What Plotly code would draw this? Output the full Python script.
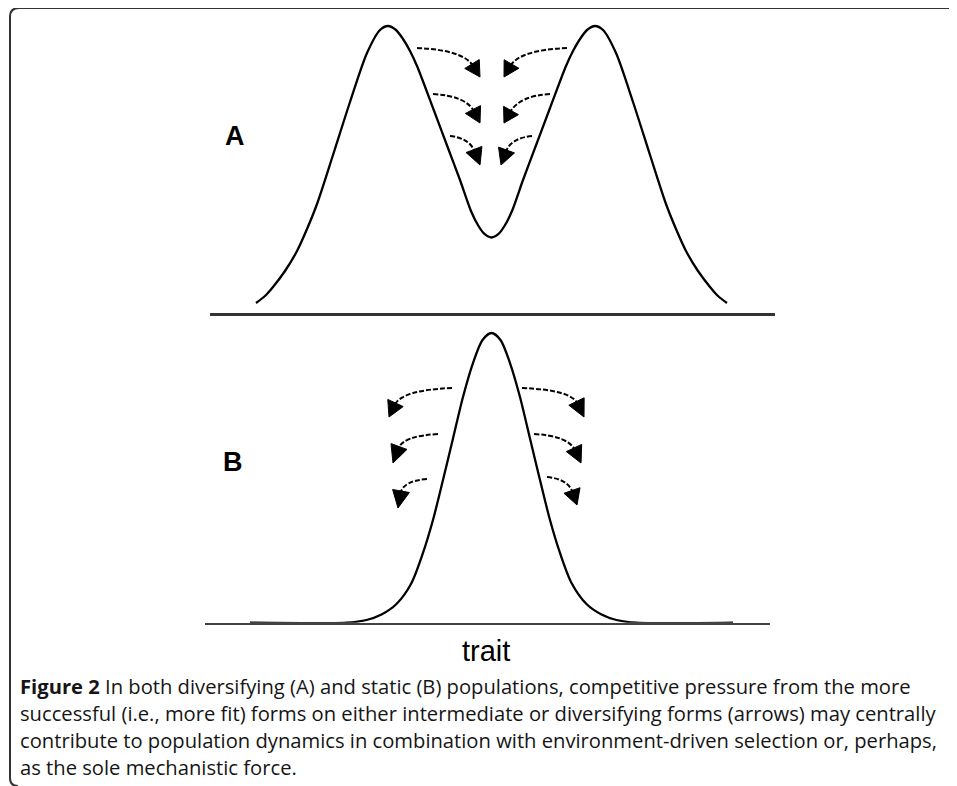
import plotly.graph_objects as go
import math

# page body adds an 8px margin; the figure is sized/offset to compensate
OFF = 8
W, H = 957 - OFF, 786 - OFF

# ---------------- data ----------------
# Panel A: diversifying population (bimodal), trait 0-100, density 0-100
trait_a = [8.14, 9.73, 11.15, 13.27, 15.40, 17.17, 18.94, 21.77, 24.78, 27.79, 30.09,
           31.50, 32.92, 34.16, 35.40, 36.64, 39.47, 42.12, 44.25, 46.19, 47.52, 48.58,
           49.82, 51.06, 52.12, 53.45, 55.40, 57.52, 60.18, 63.01, 64.25, 65.49, 66.73,
           68.14, 69.56, 71.86, 74.87, 77.88, 80.71, 82.48, 84.25, 86.37, 88.50, 89.91,
           91.50]
density_a = [3.48, 5.92, 9.06, 14.63, 21.60, 29.27, 37.98, 55.05, 73.52, 90.59, 98.61,
             100.0, 98.61, 95.47, 91.29, 86.06, 71.43, 57.49, 46.34, 35.54, 30.31, 27.53,
             26.31, 27.53, 30.31, 35.54, 46.34, 57.49, 71.43, 86.06, 91.29, 95.47, 98.61,
             100.0, 98.61, 90.59, 73.52, 55.05, 37.98, 29.27, 21.60, 14.63, 9.06, 5.92,
             3.48]

# Panel B: static population (single peak)
trait_b = [7.96, 25.04, 28.58, 31.24, 33.89, 36.55, 38.58, 40.35, 42.12, 43.89, 45.66,
           47.43, 49.12, 50.71, 52.30, 53.98, 55.75, 57.52, 59.29, 61.06, 62.83, 64.87,
           67.52, 70.18, 72.83, 76.37, 93.45]
density_b = [0, 0, 0.93, 2.83, 6.45, 13.71, 24.06, 35.45, 49.26, 63.58, 77.91,
             89.64, 97.58, 100.0, 97.58, 89.64, 77.91, 63.58, 49.26, 35.45, 24.06, 13.71,
             6.45, 2.83, 0.93, 0, 0]

panel_labels = ["A", "B"]
axis_title = "trait"
caption_lines = [
    "<b>Figure 2</b> In both diversifying (A) and static (B) populations, competitive pressure from the more",
    "successful (i.e., more fit) forms on either intermediate or diversifying forms (arrows) may centrally",
    "contribute to population dynamics in combination with environment-driven selection or, perhaps,",
    "as the sole mechanistic force.",
]

# ---------------- layout geometry (window pixels) ----------------
def px(x):
    return (x - OFF) / W


def py(y):
    return 1 - (y - OFF) / H


A_X = (210, 775)
A_BASE, A_SCALE = 313, 2.87
B_X = (205, 770)
B_BASE, B_SCALE = 622.7, 2.897
YMAX = 105

# arrows: start, control, base of head, tip (window pixels)
arrows = [
    ((417, 48), (463, 50), (472, 64), (480, 77)),
    ((433, 94), (466, 96), (473, 109.5), (480, 123)),
    ((450, 136), (469, 138), (474, 149.5), (480, 165)),
    ((567, 48), (520, 50), (511.5, 64), (504, 77)),
    ((550, 94), (519, 96), (511, 110.5), (504, 123)),
    ((532, 136), (511, 138), (506.5, 150), (501, 165)),
    ((452, 388), (402, 390), (395.5, 403), (389, 417)),
    ((438, 434), (403, 436), (399, 446.5), (393, 463)),
    ((427, 479), (403, 481), (401, 491), (398, 508)),
    ((522, 388), (571, 390), (576.5, 401.5), (584, 417)),
    ((534, 434), (568, 436), (574, 448), (581, 463)),
    ((547, 477), (568, 479), (572, 490.5), (577, 505)),
]

fig = go.Figure()
fig.add_trace(go.Scatter(x=trait_a, y=density_a, mode="lines",
                         line=dict(color="black", width=2.3, shape="spline", smoothing=0.8),
                         xaxis="x", yaxis="y", hoverinfo="skip", showlegend=False))
fig.add_trace(go.Scatter(x=trait_b, y=density_b, mode="lines",
                         line=dict(color="black", width=2.3, shape="spline", smoothing=0.8),
                         xaxis="x2", yaxis="y2", hoverinfo="skip", showlegend=False))

shapes = []
for S, C, B, T in arrows:
    dx, dy = T[0] - B[0], T[1] - B[1]
    L = math.hypot(dx, dy)
    ux, uy = dx / L, dy / L
    hw = 8.5
    v1 = (B[0] - uy * hw, B[1] + ux * hw)
    v2 = (B[0] + uy * hw, B[1] - ux * hw)
    end = (B[0] + ux * 2, B[1] + uy * 2)
    shapes.append(dict(
        type="path", xref="paper", yref="paper",
        path=f"M {px(S[0])},{py(S[1])} Q {px(C[0])},{py(C[1])} {px(end[0])},{py(end[1])}",
        line=dict(color="black", width=2, dash="5px,2px")))
    shapes.append(dict(
        type="path", xref="paper", yref="paper",
        path=(f"M {px(v1[0])},{py(v1[1])} L {px(T[0])},{py(T[1])} "
              f"L {px(v2[0])},{py(v2[1])} Z"),
        fillcolor="black", line=dict(color="black", width=1)))

# rounded frame
shapes.append(dict(
    type="path", xref="paper", yref="paper",
    path=(f"M {px(10)},{py(778)} L {px(10)},{py(17)} Q {px(10)},{py(8)} {px(19)},{py(8)} "
          f"L {px(965)},{py(8)}"),
    line=dict(color="#333333", width=2)))
shapes.append(dict(
    type="path", xref="paper", yref="paper",
    path=f"M {px(10)},{py(778)} Q {px(10)},{py(786)} {px(18)},{py(786)}",
    line=dict(color="#333333", width=2)))

annotations = []
label_pos = [(235, 136), (233, 462)]
for lab, (lx, ly) in zip(panel_labels, label_pos):
    annotations.append(dict(x=px(lx), y=py(ly), xref="paper", yref="paper", text=lab,
                            showarrow=False, xanchor="center", yanchor="middle",
                            font=dict(family="Liberation Sans, Arial, sans-serif",
                                      size=27, color="black", weight="bold")))
annotations.append(dict(x=px(486), y=py(651), xref="paper", yref="paper", text=axis_title,
                        showarrow=False, xanchor="center", yanchor="middle",
                        font=dict(family="Liberation Sans, Arial, sans-serif",
                                  size=29, color="black")))
cap_y = [686, 713, 740, 767]
for line, cy in zip(caption_lines, cap_y):
    annotations.append(dict(x=px(18), y=py(cy), xref="paper", yref="paper", text=line,
                            showarrow=False, xanchor="left", yanchor="middle",
                            font=dict(family="Open Sans, Noto Sans, sans-serif",
                                      size=20.2, color="#151515")))

axis_common = dict(showgrid=False, zeroline=False, ticks="", showticklabels=False)
fig.update_layout(
    width=W, height=H,
    margin=dict(l=0, r=0, t=0, b=0, pad=0),
    paper_bgcolor="white", plot_bgcolor="white",
    xaxis=dict(domain=[px(A_X[0]), px(A_X[1])], range=[0, 100], anchor="y",
               showline=True, linecolor="#333333", linewidth=3, **axis_common),
    yaxis=dict(domain=[py(A_BASE), py(A_BASE - YMAX * A_SCALE)], range=[0, YMAX],
               anchor="x", visible=False),
    xaxis2=dict(domain=[px(B_X[0]), px(B_X[1])], range=[0, 100], anchor="y2",
                showline=True, linecolor="#444444", linewidth=2, **axis_common),
    yaxis2=dict(domain=[py(B_BASE), py(B_BASE - YMAX * B_SCALE)], range=[0, YMAX],
                anchor="x2", visible=False),
    shapes=shapes,
    annotations=annotations,
    showlegend=False,
)

fig.write_html("out.html")
